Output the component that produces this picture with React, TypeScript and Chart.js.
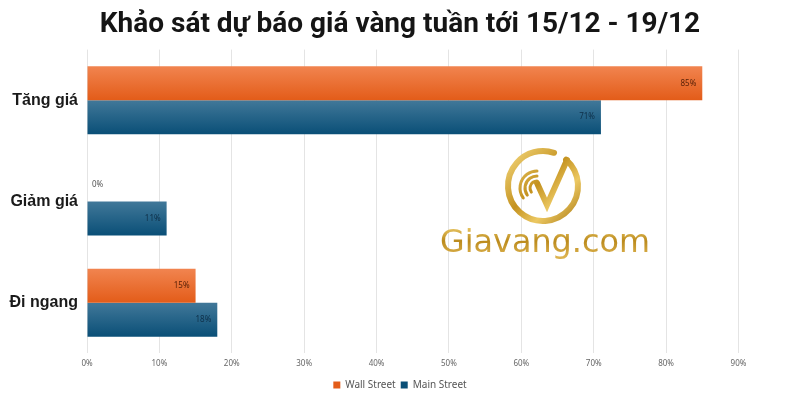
import { useEffect, useRef } from "react";
import { Chart, registerables } from "chart.js";

Chart.register(...registerables);

const chartTitle = "Khảo sát dự báo giá vàng tuần tới 15/12 - 19/12";
const categories = ["Tăng giá", "Giảm giá", "Đi ngang"];
const seriesNames = ["Wall Street", "Main Street"];
const wallStreet = [85, 0, 15];
const mainStreet = [71, 11, 18];
const xTickValues = [0, 10, 20, 30, 40, 50, 60, 70, 80, 90];
const watermarkText = "Giavang.com";

const CAT_PCT = 0.67;
const X_MAX = 98.5;

const ORANGE_TOP = "#F1844F";
const ORANGE_BOTTOM = "#E35C19";
const BLUE_TOP = "#417899";
const BLUE_BOTTOM = "#0A4F77";

function barFill(top: string, bottom: string, solid: string, dsIndex: number) {
  return (c: any) => {
    const chart = c.chart;
    const area = chart.chartArea;
    if (!area || c.type !== "data" || c.dataIndex === undefined) return solid;
    const yScale = chart.scales.y;
    const center = yScale.getPixelForValue(c.dataIndex);
    const step = (area.bottom - area.top) / categories.length;
    const half = (step * CAT_PCT) / 2;
    const t = dsIndex === 0 ? center - half : center;
    const b = dsIndex === 0 ? center : center + half;
    const g = chart.ctx.createLinearGradient(0, t, 0, b);
    g.addColorStop(0, top);
    g.addColorStop(1, bottom);
    return g;
  };
}

const valueLabels = {
  id: "valueLabels",
  afterDatasetsDraw(chart: any) {
    const ctx = chart.ctx;
    ctx.save();
    ctx.font = "8px 'Noto Sans'";
    ctx.textBaseline = "middle";
    chart.data.datasets.forEach((ds: any, di: number) => {
      const meta = chart.getDatasetMeta(di);
      meta.data.forEach((el: any, i: number) => {
        const v = ds.data[i];
        const txt = v + "%";
        if (v === 0) {
          ctx.fillStyle = "#555";
          ctx.textAlign = "left";
          ctx.fillText(txt, el.base + 5, el.y);
        } else {
          ctx.fillStyle = di === 0 ? "#5a2208" : "#0e2f48";
          ctx.textAlign = "right";
          ctx.fillText(txt, el.x - 6, el.y);
        }
      });
    });
    ctx.restore();
  },
};

const watermark = {
  id: "watermark",
  beforeDatasetsDraw(chart: any) {
    const ctx = chart.ctx;
    const cx = 543;
    const cy = 186;
    const r = 35;
    ctx.save();
    const gold = ctx.createLinearGradient(cx - r, cy - r, cx + r, cy + r);
    gold.addColorStop(0, "#f4d77c");
    gold.addColorStop(0.45, "#c4921f");
    gold.addColorStop(0.7, "#ecc862");
    gold.addColorStop(1, "#ad7d16");
    ctx.strokeStyle = gold;
    ctx.lineCap = "round";
    // outer ring
    ctx.lineWidth = 6;
    ctx.beginPath();
    ctx.arc(cx, cy, r, -0.85, 2 * Math.PI - 1.25);
    ctx.stroke();
    // concentric arcs
    ctx.lineWidth = 3;
    [7, 12, 17].forEach((rr) => {
      ctx.beginPath();
      ctx.arc(cx - 6, cy + 2, rr, Math.PI * 0.8, Math.PI * 1.5);
      ctx.stroke();
    });
    // check mark
    ctx.lineWidth = 6;
    ctx.lineJoin = "miter";
    ctx.beginPath();
    ctx.moveTo(cx - 6, cy - 3);
    ctx.lineTo(cx + 4, cy + 19);
    ctx.lineTo(cx + 24, cy - 26);
    ctx.stroke();
    // text
    const tg = ctx.createLinearGradient(0, 226, 0, 256);
    tg.addColorStop(0, "#eccb6a");
    tg.addColorStop(0.5, "#bb8a1c");
    tg.addColorStop(1, "#dcb24e");
    ctx.fillStyle = tg;
    let size = 30;
    ctx.font = `${size}px 'DejaVu Sans'`;
    const w = ctx.measureText(watermarkText).width;
    size = (size * 210) / w;
    ctx.font = `${size}px 'DejaVu Sans'`;
    ctx.textAlign = "left";
    ctx.textBaseline = "alphabetic";
    ctx.fillText(watermarkText, 440, 252);
    ctx.restore();
  },
};

export default function App() {
  const ref = useRef<HTMLCanvasElement>(null);
  useEffect(() => {
    if (!ref.current) return;
    const chart = new Chart(ref.current, {
      type: "bar",
      data: {
        labels: categories,
        datasets: [
          {
            label: seriesNames[0],
            data: wallStreet,
            backgroundColor: barFill(ORANGE_TOP, ORANGE_BOTTOM, "#E07A4A", 0) as any,
            borderWidth: 0,
            categoryPercentage: CAT_PCT,
            barPercentage: 1,
          },
          {
            label: seriesNames[1],
            data: mainStreet,
            backgroundColor: barFill(BLUE_TOP, BLUE_BOTTOM, "#1F5A78", 1) as any,
            borderWidth: 0,
            categoryPercentage: CAT_PCT,
            barPercentage: 1,
          },
        ],
      },
      options: {
        indexAxis: "y",
        animation: false,
        responsive: false,
        layout: { padding: { left: 0, right: 0, top: 0, bottom: 0 } },
        scales: {
          x: {
            min: 0,
            max: X_MAX,
            afterBuildTicks: (scale: any) => {
              scale.ticks = xTickValues.map((v) => ({ value: v }));
            },
            ticks: {
              callback: (v: any) => v + "%",
              font: { family: "'Noto Sans'", size: 8 },
              color: "#666",
              padding: 6,
            },
            grid: { color: "#e4e4e4", drawTicks: false },
            border: { display: false },
          },
          y: {
            afterFit: (scale: any) => {
              scale.width = 87;
            },
            ticks: {
              font: { family: "'Liberation Sans'", size: 16, weight: "bold" },
              color: "#1a1a1a",
              padding: 9,
            },
            grid: { display: false, drawTicks: false },
            border: { display: false },
          },
        },
        plugins: {
          title: {
            display: true,
            text: chartTitle,
            font: { family: "Roboto", size: 28, weight: "bold" },
            color: "#151515",
            padding: { top: 8, bottom: 8 },
          },
          legend: {
            position: "bottom",
            labels: {
              boxWidth: 7,
              boxHeight: 7,
              font: { family: "'Noto Sans'", size: 10 },
              color: "#555",
              padding: 5,
            },
          },
          tooltip: { enabled: false },
        },
      },
      plugins: [watermark, valueLabels],
    });
    return () => chart.destroy();
  }, []);
  return (
    <div style={{ position: "fixed", left: 0, top: 0, width: 800, height: 400, background: "#fff" }}>
      <canvas ref={ref} width={800} height={400} />
    </div>
  );
}
